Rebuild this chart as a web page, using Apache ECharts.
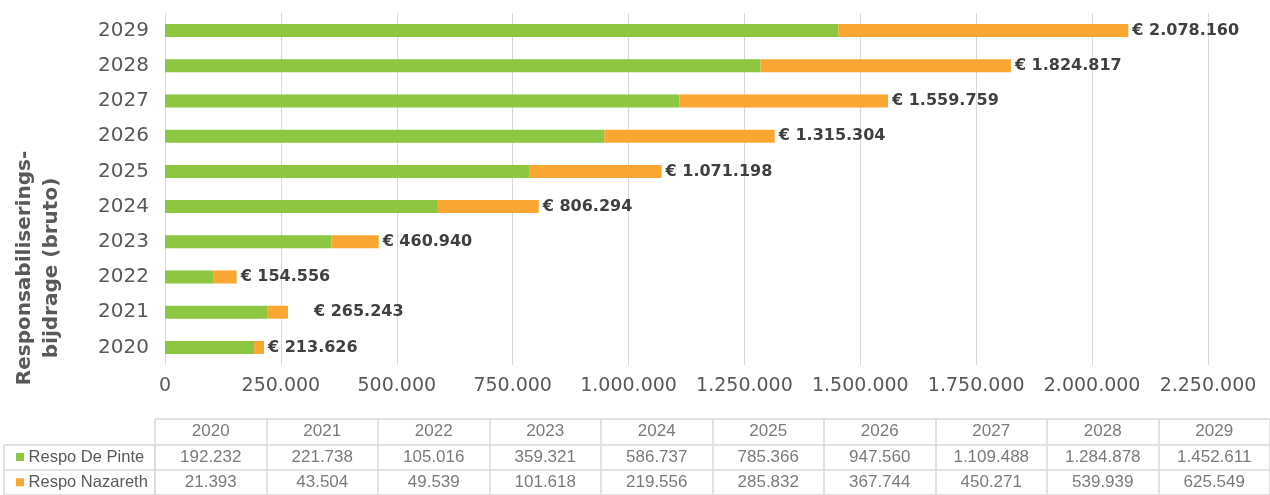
<!DOCTYPE html>
<html>
<head>
<meta charset="utf-8">
<script src="https://cdn.jsdelivr.net/npm/echarts@6/dist/echarts.min.js"></script>
<style>
  html, body { margin: 0; padding: 0; background: #fff; }
  #chart { width: 1270px; height: 495px; }
</style>
</head>
<body>
<div id="chart"></div>
<script>
// jaren en bijdragen (uit de tabel)
const years = ['2020', '2021', '2022', '2023', '2024', '2025', '2026', '2027', '2028', '2029'];
const respoDePinte = [192232, 221738, 105016, 359321, 586737, 785366, 947560, 1109488, 1284878, 1452611];
const respoNazareth = [21393, 43504, 49539, 101618, 219556, 285832, 367744, 450271, 539939, 625549];
const totals = [213626, 265243, 154556, 460940, 806294, 1071198, 1315304, 1559759, 1824817, 2078160];
const seriesNames = ['Respo De Pinte', 'Respo Nazareth'];
const xTicks = [0, 250000, 500000, 750000, 1000000, 1250000, 1500000, 1750000, 2000000, 2250000];

const green = '#8dc641';
const orange = '#f9a633';
const grey = '#595959';
const lineCol = '#d9d9d9';

// 1234567 -> 1.234.567
const fmt = v => String(v).replace(/\B(?=(\d{3})+(?!\d))/g, '.');

const chart = echarts.init(document.getElementById('chart'));

const tableRows = ['hdr', seriesNames[0], seriesNames[1]];
const cellFont = { fontFamily: 'Liberation Sans', fontSize: 17, color: grey };

chart.setOption({
  animation: false,
  textStyle: { fontFamily: 'DejaVu Sans' },
  grid: [
    { left: 165, top: 13, width: 1043, height: 352 },          // grafiek
    { left: 155, top: 419, width: 1118, height: 76 },          // tabel jaren
    { left: 4, top: 444.3, width: 151, height: 50.7 }          // tabel legend-kolom
  ],
  xAxis: [
    {
      type: 'value', gridIndex: 0,
      min: xTicks[0], max: xTicks[xTicks.length - 1], interval: 250000,
      axisLine: { show: false }, axisTick: { show: false },
      splitLine: { lineStyle: { color: lineCol, width: 1 } },
      axisLabel: { color: grey, fontSize: 19, margin: 12, formatter: v => fmt(v) }
    },
    {
      type: 'category', gridIndex: 1, data: years,
      axisLine: { show: false }, axisTick: { show: false }, axisLabel: { show: false },
      splitLine: { show: true, interval: 0, lineStyle: { color: lineCol, width: 1.5 } }
    },
    {
      type: 'category', gridIndex: 2, data: [''],
      axisLine: { show: false }, axisTick: { show: false }, axisLabel: { show: false },
      splitLine: { show: true, interval: 0, lineStyle: { color: lineCol, width: 1.5 } }
    }
  ],
  yAxis: [
    {
      type: 'category', gridIndex: 0, data: years,
      axisLine: { show: false }, axisTick: { show: false },
      axisLabel: { color: grey, fontSize: 20, margin: 16 }
    },
    {
      type: 'category', gridIndex: 1, data: tableRows, inverse: true,
      axisLine: { show: false }, axisTick: { show: false }, axisLabel: { show: false },
      splitLine: { show: true, interval: 0, lineStyle: { color: lineCol, width: 1.5 } }
    },
    {
      type: 'category', gridIndex: 2, data: seriesNames, inverse: true,
      axisLine: { show: false }, axisTick: { show: false },
      splitLine: { show: true, interval: 0, lineStyle: { color: lineCol, width: 1.5 } },
      axisLabel: {
        inside: true, align: 'left', margin: 12,
        formatter: (v, i) => (i === 0 ? '{g|}' : '{o|}') + '{t| ' + v + '}',
        rich: {
          g: { width: 8, height: 8, backgroundColor: green },
          o: { width: 8, height: 8, backgroundColor: orange },
          t: { fontFamily: 'Liberation Sans', fontSize: 16.5, color: grey }
        }
      }
    }
  ],
  graphic: [
    {
      type: 'text', x: 38, y: 268, rotation: Math.PI / 2,
      style: {
        text: 'Responsabiliserings-\nbijdrage (bruto)',
        align: 'center', verticalAlign: 'middle', lineHeight: 27,
        font: 'bold 20px "DejaVu Sans"', fill: grey
      }
    }
  ],
  series: [
    {
      name: seriesNames[0], type: 'bar', stack: 'tot', barWidth: 13,
      xAxisIndex: 0, yAxisIndex: 0,
      itemStyle: { color: green },
      data: respoDePinte
    },
    {
      name: seriesNames[1], type: 'bar', stack: 'tot', barWidth: 13,
      xAxisIndex: 0, yAxisIndex: 0,
      itemStyle: { color: orange },
      label: {
        show: true, position: 'right', distance: 4,
        color: '#404040', fontWeight: 'bold', fontSize: 16,
        formatter: p => '€ ' + fmt(totals[p.dataIndex])
      },
      // label 2021 staat verder naar rechts in het origineel
      data: respoNazareth.map((v, i) => years[i] === '2021'
        ? { value: v, label: { distance: 26 } } : v)
    },
    // tabel: koprij met jaartallen
    {
      type: 'scatter', xAxisIndex: 1, yAxisIndex: 1, symbolSize: 0, silent: true,
      label: Object.assign({ show: true, position: 'inside', formatter: p => p.value[0] }, cellFont),
      data: years.map(y => [y, 'hdr'])
    },
    {
      type: 'scatter', xAxisIndex: 1, yAxisIndex: 1, symbolSize: 0, silent: true,
      label: Object.assign({ show: true, position: 'inside', formatter: p => fmt(p.value[2]) }, cellFont),
      data: years.map((y, i) => [y, seriesNames[0], respoDePinte[i]])
    },
    {
      type: 'scatter', xAxisIndex: 1, yAxisIndex: 1, symbolSize: 0, silent: true,
      label: Object.assign({ show: true, position: 'inside', formatter: p => fmt(p.value[2]) }, cellFont),
      data: years.map((y, i) => [y, seriesNames[1], respoNazareth[i]])
    }
  ]
});
</script>
</body>
</html>
